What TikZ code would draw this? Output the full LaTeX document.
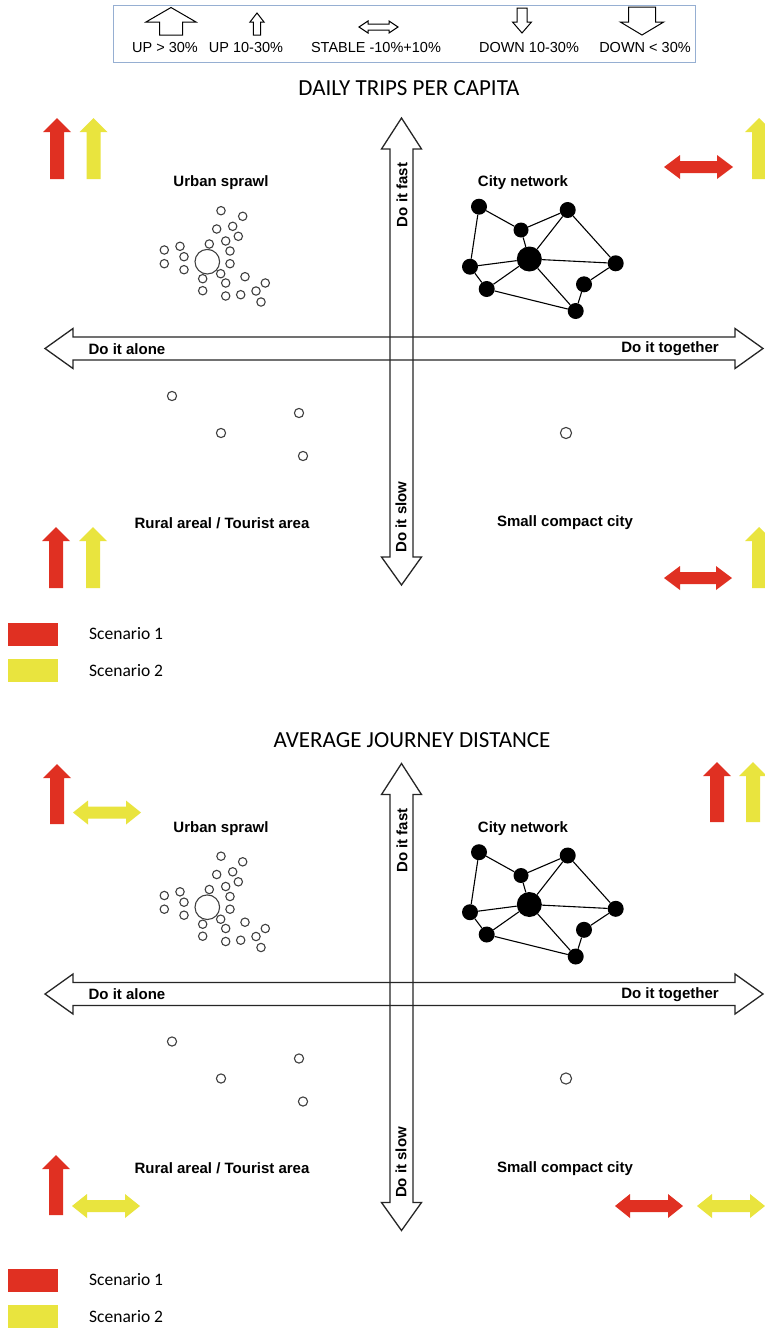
\documentclass[tikz,border=0pt]{standalone}
\usepackage{fontspec}
\setmainfont{Liberation Sans}
\newfontfamily\calfont{Carlito}
\definecolor{sred}{RGB}{224,48,34}
\definecolor{syel}{RGB}{233,228,62}
\definecolor{boxblue}{RGB}{150,175,210}
% block arrows drawn as polygons
\newcommand{\myUp}[7][]{\draw[#1] (#2-#6,#4) -- (#2-#6,#3+#5) -- (#2-#7,#3+#5) -- (#2,#3) -- (#2+#7,#3+#5) -- (#2+#6,#3+#5) -- (#2+#6,#4) -- cycle;}
\newcommand{\myDown}[7][]{\draw[#1] (#2-#6,#3) -- (#2-#6,#4-#5) -- (#2-#7,#4-#5) -- (#2,#4) -- (#2+#7,#4-#5) -- (#2+#6,#4-#5) -- (#2+#6,#3) -- cycle;}
\newcommand{\myDblH}[7][]{\draw[#1] (#3,#2) -- (#3+#5,#2-#7) -- (#3+#5,#2-#6) -- (#4-#5,#2-#6) -- (#4-#5,#2-#7) -- (#4,#2) -- (#4-#5,#2+#7) -- (#4-#5,#2+#6) -- (#3+#5,#2+#6) -- (#3+#5,#2+#7) -- cycle;}
\newcommand{\myDblV}[8][]{\draw[#1] (#2,#3) -- (#2+#8,#3+#5) -- (#2+#7,#3+#5) -- (#2+#7,#4-#6) -- (#2+#8,#4-#6) -- (#2,#4) -- (#2-#8,#4-#6) -- (#2-#7,#4-#6) -- (#2-#7,#3+#5) -- (#2-#8,#3+#5) -- cycle;}
\tikzset{
  lbl/.style={font=\fontsize{15}{15}\selectfont\bfseries, inner sep=0pt},
  leg/.style={font=\fontsize{14.5}{14.5}\selectfont, inner sep=0pt},
  scen/.style={font=\calfont\fontsize{17.5}{17.5}\selectfont, inner sep=0pt, anchor=west},
  ttl/.style={font=\calfont\fontsize{23}{23}\selectfont, inner sep=0pt},
  axis/.style={draw=black!85, line width=1.3pt, line join=miter},
  outl/.style={draw=black, line width=1pt, fill=white},
  redf/.style={fill=sred, draw=none},
  yelf/.style={fill=syel, draw=none},
  spr/.style={draw=black!75, line width=1.1pt},
  net/.style={circle, fill=black, inner sep=0pt, minimum size=16pt},
  netbig/.style={circle, fill=black, inner sep=0pt, minimum size=25pt},
  edge/.style={draw=black, line width=1.1pt},
}
\newcommand{\mypanel}[1]{%
  % axes
  \myDblV[axis]{401.5}{118}{585}{31}{28}{11.5}{20}
  \myDblH[axis]{348.5}{45}{763}{28}{11.5}{20}
  \node[lbl,rotate=90] (#1fast) at (402,195) {Do it fast};
  \node[lbl,rotate=90] (#1slow) at (401,517) {Do it slow};
  \node[lbl] (#1alone) at (127,349) {Do it alone};
  \node[lbl] (#1tog) at (670,349) {Do it together};
  \node[lbl] (#1us) at (221,183) {Urban sprawl};
  \node[lbl] (#1cn) at (523,183) {City network};
  \node[lbl] (#1ra) at (222,523) {Rural areal / Tourist area};
  \node[lbl] (#1sc) at (565,523) {Small compact city};
  % urban sprawl
  \draw[spr] (207.3,261.7) circle[radius=12.3];
  \foreach \px/\py in {221/210.7,242.7/216.3,216.7/229,232.7/226.3,238.3/236.3,225.7/241,209.3/244,230/251,180/246.3,164.3/250,184/256.7,164.3/263.7,184/269.7,230/263.7,220.7/273.7,245/276.7,202.7/278.7,225.7/283,202.7/290.7,225.7/296,240.7/294.7,256/291,265.3/283,261/302}
    {\draw[spr] (\px,\py) circle[radius=4.2];}
  % rural & compact
  \foreach \px/\py in {172/396,299/413,221/433,303/456}
    {\draw[spr] (\px,\py) circle[radius=4.6];}
  \draw[spr] (566,433) circle[radius=5.6];
  % city network
  \node[net] (#1A) at (479,206.7) {};
  \node[net] (#1B) at (567.7,210) {};
  \node[net,minimum size=15pt] (#1C) at (521,230) {};
  \node[netbig] (#1D) at (529.3,259) {};
  \node[net] (#1E) at (470,266.7) {};
  \node[net] (#1F) at (615.7,263.3) {};
  \node[net] (#1G) at (486.7,289) {};
  \node[net] (#1H) at (584,284.3) {};
  \node[net] (#1I) at (575.7,311) {};
  \draw[edge] (#1A) -- (#1C);
  \draw[edge] (#1A) -- (#1E);
  \draw[edge] (#1C) -- (#1B);
  \draw[edge] (#1C) -- (#1D);
  \draw[edge] (#1B) -- (#1D);
  \draw[edge] (#1B) -- (#1F);
  \draw[edge] (#1E) -- (#1D);
  \draw[edge] (#1E) -- (#1G);
  \draw[edge] (#1G) -- (#1D);
  \draw[edge] (#1G) -- (#1I);
  \draw[edge] (#1D) -- (#1F);
  \draw[edge] (#1D) -- (#1I);
  \draw[edge] (#1F) -- (#1H);
  \draw[edge] (#1H) -- (#1I);
  % scenario legend
  \fill[sred] (8,623) rectangle (58,646);
  \fill[syel] (8,659) rectangle (58,682);
  \node[scen] (#1s1) at (89,634) {Scenario 1};
  \node[scen] (#1s2) at (89,671) {Scenario 2};
}
\begin{document}
\begin{tikzpicture}[x=1pt,y=-1pt]
\useasboundingbox (0,0) rectangle (765,1328);
\fill[white] (0,0) rectangle (765,1328);
% top legend box
\draw[boxblue, line width=1pt] (113.5,5) rectangle (695,62);
\myUp[outl]{171}{7.5}{35}{14.5}{11.5}{25}
\myUp[outl]{257}{13}{35}{9}{3.7}{7}
\myDblH[outl]{27}{359}{398}{9}{3}{6}
\myDown[outl]{522}{8}{33}{11}{5}{9.5}
\myDown[outl]{642}{7}{35}{13}{13.5}{21.7}
\node[leg] (l1) at (165,47.5) {UP > 30\%};
\node[leg] (l2) at (246,47.5) {UP 10-30\%};
\node[leg] (l3) at (376,47.5) {STABLE -10\%+10\%};
\node[leg] (l4) at (529,47.5) {DOWN 10-30\%};
\node[leg] (l5) at (645,47.5) {DOWN < 30\%};
% panel 1
\node[ttl] (t1) at (409,88) {DAILY TRIPS PER CAPITA};
\mypanel{a}
\myUp[redf]{57}{118}{179}{14}{7}{14}
\myUp[yelf]{93.5}{118}{179}{14}{7}{14}
\myDblH[redf]{167}{664}{733}{16}{6}{12}
\myUp[yelf]{759}{118}{179}{14}{7}{14}
\myUp[redf]{56}{527}{588}{14}{7}{14}
\myUp[yelf]{93}{527}{588}{14}{7}{14}
\myDblH[redf]{578}{664}{732}{16}{6}{12}
\myUp[yelf]{759}{527}{588}{14}{7}{14}
% panel 2
\node[ttl] (t2) at (412,740) {AVERAGE JOURNEY DISTANCE};
\begin{scope}[shift={(0,645.5)}]
\mypanel{b}
\end{scope}
\myUp[redf]{57}{764}{824}{14}{7}{14}
\myDblH[yelf]{812.5}{73}{141}{15}{6}{12}
\myUp[redf]{717}{762}{822}{14}{7}{14}
\myUp[yelf]{753}{762}{822}{14}{7}{14}
\myUp[redf]{56}{1155}{1215}{14}{7}{14}
\myDblH[yelf]{1206}{72}{140}{15}{6}{12}
\myDblH[redf]{1206}{615}{683}{15}{6}{12}
\myDblH[yelf]{1206}{697}{765}{15}{6}{12}
\end{tikzpicture}
\end{document}
